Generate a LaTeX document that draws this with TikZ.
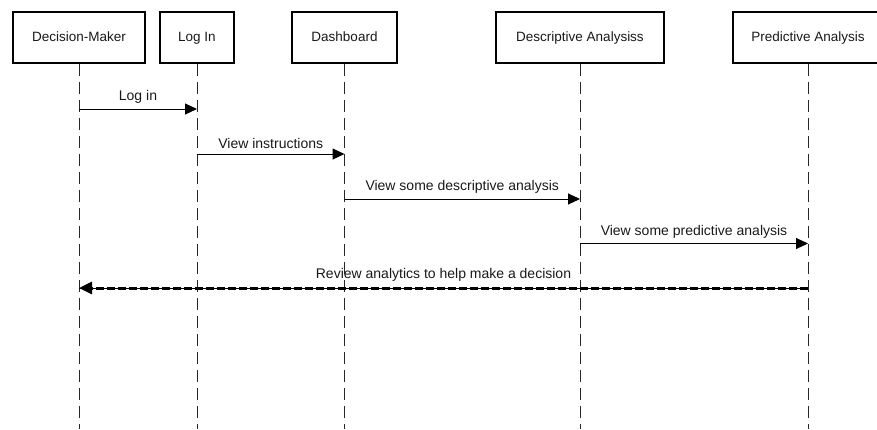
\documentclass[tikz,border=0pt]{standalone}
\usepackage{fontspec}
\setmainfont{Liberation Sans}
\usetikzlibrary{arrows.meta}
\begin{document}
\begin{tikzpicture}[x=1pt, y=-1pt,
    actor/.style={draw, line width=1.8pt, minimum height=51pt, inner sep=0pt, text height=10pt, text depth=3pt, font=\fontsize{13.5}{16}\selectfont, text=black!90},
    lifeline/.style={line width=1pt, dash pattern=on 12pt off 6pt, black!85},
    msg/.style={line width=1pt, black, -{Triangle[length=12pt,width=11pt]}},
    msglabel/.style={above=3pt, inner sep=2pt, font=\fontsize{14}{16}\selectfont, text=black!90},
    reply/.style={line width=3pt, dash pattern=on 8pt off 3pt, -{Triangle[length=13pt,width=12pt]}}]
    \useasboundingbox (0,0) rectangle (877,429);

    % participants
    \node[actor, minimum width=132pt] (dm) at (79,37.5) {Decision-Maker};
    \node[actor, minimum width=74pt] (login) at (197,37.5) {Log In};
    \node[actor, minimum width=105pt] (dash) at (344.5,37.5) {Dashboard};
    \node[actor, minimum width=168pt] (desc) at (580,37.5) {Descriptive Analysiss};
    \node[actor, minimum width=150pt] (pred) at (808,37.5) {Predictive Analysis};

    \coordinate (bottom) at (0,429);
    \coordinate (t1) at (0,109);
    \coordinate (t2) at (0,154);
    \coordinate (t3) at (0,199);
    \coordinate (t4) at (0,243.5);
    \coordinate (t5) at (0,288);

    % lifelines
    \foreach \n in {dm,login,dash,desc,pred}
        \draw[lifeline] (\n.south) -- (\n.south |- bottom);

    % messages
    \draw[msg] (dm |- t1) -- node[msglabel] (l1) {Log in} (login |- t1);
    \draw[msg] (login |- t2) -- node[msglabel] (l2) {View instructions} (dash |- t2);
    \draw[msg] (dash |- t3) -- node[msglabel] (l3) {View some descriptive analysis} (desc |- t3);
    \draw[msg] (desc |- t4) -- node[msglabel] (l4) {View some predictive analysis} (pred |- t4);

    \draw[line width=1pt] (pred |- t5) -- (dm |- t5);
    \draw[reply] (pred |- t5) -- node[msglabel] (l5) {Review analytics to help make a decision} (dm |- t5);
\end{tikzpicture}
\end{document}
